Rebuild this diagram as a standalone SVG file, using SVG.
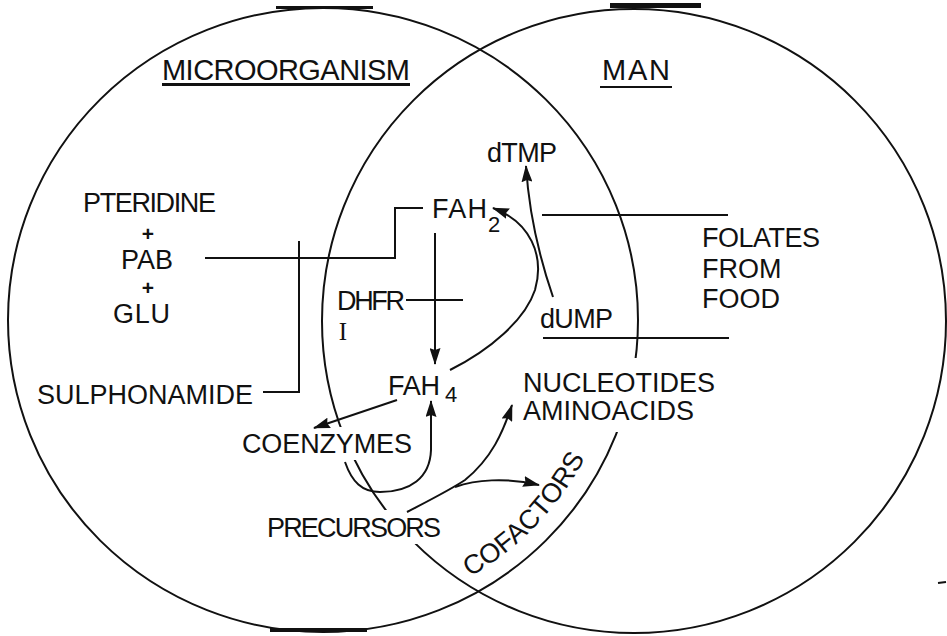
<svg xmlns="http://www.w3.org/2000/svg" width="947" height="636" viewBox="0 0 947 636">
<style>
.t{font-family:"Liberation Sans",Arial,sans-serif;font-size:27px;fill:#111}
.h{font-size:29px}
.s{font-size:22px}
.p{font-size:21px;font-weight:bold}
.ln{fill:none;stroke:#111;stroke-width:2}
.arr{fill:none;stroke:#111;stroke-width:2;marker-end:url(#ah)}
.bar{fill:#111}
.mask{fill:#fff}
</style>
<defs>
<marker id="ah" viewBox="0 0 17 11" refX="16" refY="5.5" markerWidth="17" markerHeight="11" markerUnits="userSpaceOnUse" orient="auto">
<path d="M0,0 L17,5.5 L0,11 L2,5.5 z" fill="#111"/>
</marker>
<path id="cofPath" d="M457.4,583.7 A296,296 0 0 0 591.3,445.1"/>
</defs>
<rect width="947" height="636" fill="#fff"/>

<g id="circles">
<ellipse id="microorganism-circle" class="ln" cx="323" cy="320" rx="315" ry="312"/>
<circle id="man-circle" class="ln" cx="634" cy="321" r="312"/>
<rect class="bar" x="276" y="6" width="97" height="3"/>
<rect class="bar" x="610" y="3" width="91" height="5"/>
<rect class="bar" x="270" y="628" width="97" height="4"/>
<line class="ln" x1="938" y1="583" x2="946" y2="582"/>
</g>

<g id="gaps">
<rect class="mask" x="598" y="358" width="50" height="74"/>
<rect class="mask" x="333" y="427" width="28" height="33"/>
<rect class="mask" x="376" y="510" width="48" height="34"/>
</g>

<g id="connectors">
<polyline class="ln" points="205,258 395,258 395,208 423,208"/>
<polyline class="ln" points="299,241 299,392 263,392"/>
<line class="ln" x1="406" y1="300" x2="463" y2="300"/>
<line class="arr" x1="435" y1="233" x2="435" y2="364"/>
<path class="arr" d="M450,370 C490,350 525,320 535,290 C545,255 530,222 493,208"/>
<path class="arr" d="M553,297 Q530,230 526,166"/>
<line class="ln" x1="542" y1="215" x2="728" y2="215"/>
<line class="ln" x1="543" y1="338" x2="729" y2="338"/>
<line class="arr" x1="397" y1="400" x2="314" y2="428"/>
<path class="arr" d="M345,462 C352,482 362,492 380,492 C410,492 430,478 431,450 L431,401"/>
<path class="arr" d="M407,512 C430,500 450,490 465,480 C492,458 503,432 512,405"/>
<path class="arr" d="M455,487 C475,480 505,477 539,485"/>
</g>

<g id="title-microorganism">
<text class="t h" x="162" y="80" textLength="248">MICROORGANISM</text>
<rect class="bar" x="162" y="83" width="248" height="3"/>
</g>
<g id="title-man">
<text class="t h" x="602" y="80" textLength="68">MAN</text>
<rect class="bar" x="600" y="86" width="72" height="2"/>
</g>
<g id="pteridine">
<text class="t" x="83" y="212" textLength="133">PTERIDINE</text>
<text class="t p" x="148" y="241" text-anchor="middle">+</text>
<text class="t" x="121" y="269" textLength="52">PAB</text>
<text class="t p" x="148" y="295" text-anchor="middle">+</text>
<text class="t" x="113" y="323" textLength="57">GLU</text>
</g>
<g id="sulphonamide">
<text class="t" x="37" y="404" textLength="216">SULPHONAMIDE</text>
</g>
<g id="dhfr">
<text class="t" x="337" y="310" textLength="68">DHFR</text>
<text x="343" y="340" text-anchor="middle" style="font-family:'Liberation Serif',serif;font-size:25px;fill:#111">I</text>
</g>
<g id="fah2">
<text class="t" x="432" y="218" textLength="55">FAH</text>
<text class="t s" x="488" y="232">2</text>
</g>
<g id="fah4">
<text class="t" x="388" y="395" textLength="52">FAH</text>
<text class="t s" x="445" y="402">4</text>
</g>
<g id="dtmp">
<text class="t" x="487" y="162" textLength="70">dTMP</text>
</g>
<g id="dump">
<text class="t" x="540" y="328" textLength="73">dUMP</text>
</g>
<g id="folates">
<text class="t" x="702" y="247" textLength="118">FOLATES</text>
<text class="t" x="702" y="278">FROM</text>
<text class="t" x="702" y="308">FOOD</text>
</g>
<g id="nucleotides">
<text class="t" x="523" y="392">NUCLEOTIDES</text>
<text class="t" x="523" y="420">AMINOACIDS</text>
</g>
<g id="coenzymes">
<text class="t" x="242" y="453" textLength="170">COENZYMES</text>
</g>
<g id="precursors">
<text class="t" x="267" y="537" textLength="174">PRECURSORS</text>
</g>
<g id="cofactors">
<text class="t"><textPath href="#cofPath" startOffset="50%" text-anchor="middle">COFACTORS</textPath></text>
</g>
</svg>
